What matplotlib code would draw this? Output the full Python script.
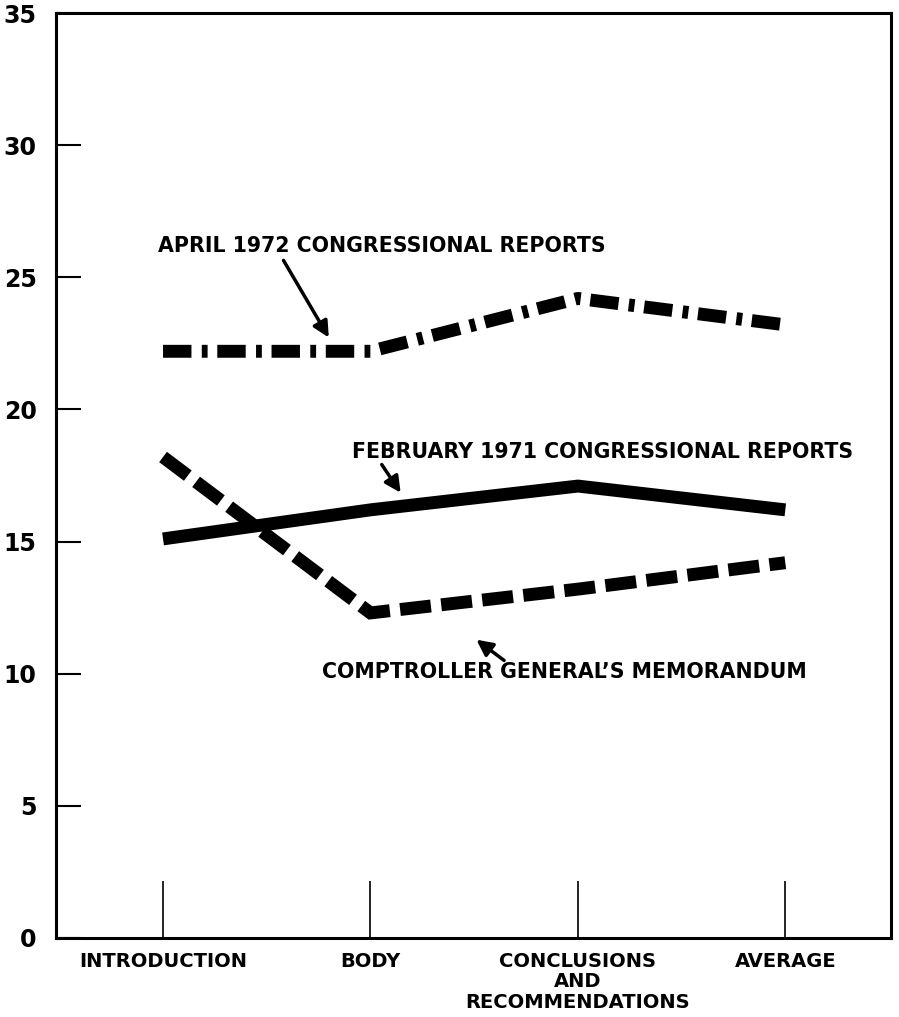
import matplotlib
matplotlib.use("Agg")
import matplotlib.pyplot as plt

categories = ["INTRODUCTION", "BODY", "CONCLUSIONS\nAND\nRECOMMENDATIONS", "AVERAGE"]
april_1972 = [22.2, 22.2, 24.2, 23.2]
february_1971 = [15.1, 16.2, 17.1, 16.2]
comptroller = [18.2, 12.3, 13.2, 14.2]
y_ticks = [0, 5, 10, 15, 20, 25, 30, 35]

fig = plt.figure(figsize=(8.99, 10.17), dpi=100)
ax = fig.add_axes([0.0623, 0.0777, 0.9289, 0.9095])

x = list(range(len(categories)))
lw = 9.3

ax.plot(x, april_1972, color="black", lw=lw, solid_capstyle="butt",
        dash_capstyle="butt", solid_joinstyle="miter",
        dashes=(2.2, 0.8, 0.45, 0.75))
ax.plot(x, february_1971, color="black", lw=lw, solid_capstyle="butt",
        solid_joinstyle="miter")
ax.plot(x, comptroller, color="black", lw=lw, dash_capstyle="butt",
        dash_joinstyle="miter", dashes=(2.4, 0.8))

# labels with arrows
font = dict(fontsize=14.8, fontweight="bold", family="DejaVu Sans")
ax.text(-0.024, 26.2, "APRIL 1972 CONGRESSIONAL REPORTS", va="center", ha="left", **font)
ax.annotate("", xy=(0.806, 22.63), xytext=(0.574, 25.73),
            arrowprops=dict(arrowstyle="-|>", lw=2.5, color="black", mutation_scale=24))
ax.text(0.912, 18.39, "FEBRUARY 1971 CONGRESSIONAL REPORTS", va="center", ha="left", **font)
ax.annotate("", xy=(1.153, 16.76), xytext=(1.047, 18.0),
            arrowprops=dict(arrowstyle="-|>", lw=2.5, color="black", mutation_scale=24))
ax.text(0.767, 10.06, "COMPTROLLER GENERAL\u2019S MEMORANDUM", va="center", ha="left", **font)
ax.annotate("", xy=(1.50, 11.35), xytext=(1.655, 10.44),
            arrowprops=dict(arrowstyle="-|>", lw=2.5, color="black", mutation_scale=24))

ax.set_xlim(-0.516, 3.51)
ax.set_ylim(0, 35)
ax.set_yticks(y_ticks)
ax.set_yticklabels([str(v) for v in y_ticks], fontsize=17, fontweight="bold")
ax.set_xticks(x)
ax.set_xticklabels(categories, fontsize=14, fontweight="bold", linespacing=1.1)

ax.tick_params(axis="y", direction="in", length=18, width=1.5, pad=14)
ax.tick_params(axis="x", direction="in", length=41, width=1.2, pad=10)
for s in ax.spines.values():
    s.set_linewidth(2.2)

fig.savefig("out.png", dpi=100)
